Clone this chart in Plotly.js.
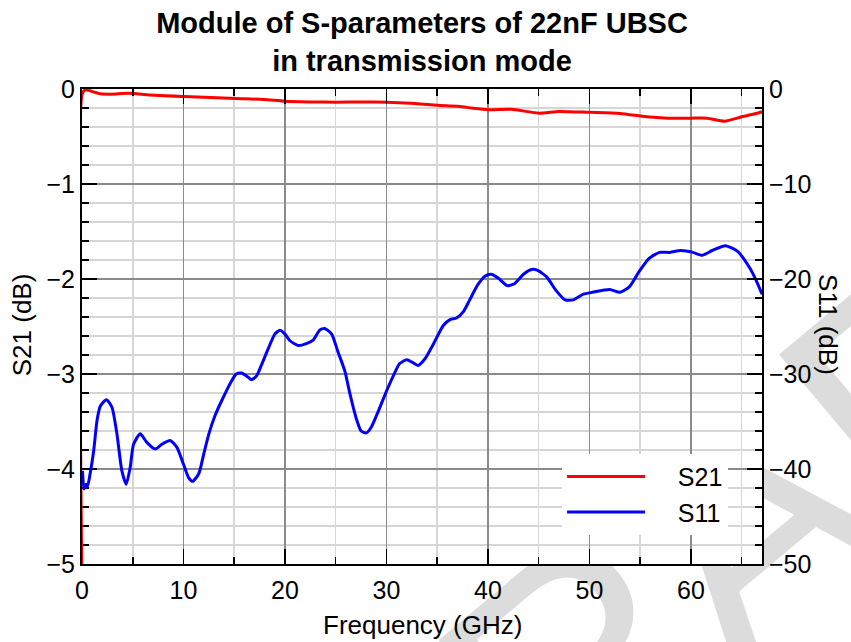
<!DOCTYPE html>
<html>
<head>
<meta charset="utf-8">
<script src="https://cdn.plot.ly/plotly-3.0.1.min.js"></script>
<style>html,body{margin:0;padding:0;background:#fff;}#chart{width:851px;height:642px;}</style>
</head>
<body>
<div id="chart"></div>
<script>
// S21 (transmission) in dB, left axis
const s21Freq = [0, 0, 0.3, 0.64, 1.16, 1.8, 2.9, 4.6, 6.7, 10.0, 12.7, 15.1, 17.9, 20.0, 22.6, 25.0, 27.7, 30.0, 32.4, 35.0, 37.1, 38.4, 40.0, 42.3, 45.0, 47.0, 50.0, 53.0, 55.6, 57.7, 60.0, 61.6, 63.3, 65.0, 66.7, 67.0];
const s21dB = [-5.3, -0.06, -0.01, -0.014, -0.032, -0.05, -0.054, -0.046, -0.064, -0.079, -0.089, -0.1, -0.11, -0.129, -0.136, -0.139, -0.136, -0.139, -0.15, -0.171, -0.182, -0.2, -0.218, -0.214, -0.254, -0.236, -0.246, -0.257, -0.293, -0.307, -0.307, -0.307, -0.339, -0.293, -0.25, -0.24];

// S11 (reflection) in dB, right axis
const s11Freq = [0.05, 0.2, 0.4, 0.55, 0.8, 1.15, 1.48, 1.8, 2.4, 2.95, 3.44, 3.93, 4.36, 4.75, 5.08, 5.74, 6.39, 7.2, 7.87, 8.69, 9.34, 10.0, 10.5, 10.9, 11.5, 12.0, 12.5, 13.1, 13.9, 14.75, 15.2, 15.7, 16.2, 16.7, 17.2, 17.7, 18.4, 19.0, 19.5, 20.0, 20.5, 21.3, 22.1, 22.8, 23.4, 23.9, 24.6, 25.2, 25.9, 26.4, 27.0, 27.5, 28.0, 28.5, 29.2, 30.0, 30.8, 31.3, 32.0, 32.6, 33.1, 33.8, 34.6, 35.6, 36.3, 36.9, 37.6, 38.2, 39.0, 39.7, 40.3, 41.0, 41.9, 42.6, 43.5, 44.3, 44.9, 45.8, 46.7, 47.6, 48.4, 49.4, 50.3, 52.0, 53.0, 53.95, 54.9, 55.9, 56.9, 57.9, 59.0, 60.2, 61.1, 62.1, 63.4, 64.6, 65.8, 66.4, 67.0];
const s11dB = [-40.2, -42.1, -41.6, -41.8, -40.5, -38.1, -34.9, -33.4, -32.7, -33.5, -36.3, -40.2, -41.6, -39.8, -37.4, -36.3, -37.2, -37.9, -37.4, -37.0, -37.7, -39.5, -40.9, -41.3, -40.5, -38.4, -36.3, -34.4, -32.5, -30.7, -30.0, -29.9, -30.2, -30.6, -30.2, -29.0, -27.2, -25.8, -25.4, -25.8, -26.5, -27.0, -26.8, -26.4, -25.4, -25.2, -25.8, -27.6, -29.7, -32.1, -34.6, -36.0, -36.2, -35.6, -33.9, -31.8, -29.9, -28.9, -28.5, -28.8, -29.1, -28.4, -26.9, -24.9, -24.25, -24.1, -23.4, -22.2, -20.6, -19.7, -19.5, -19.9, -20.7, -20.5, -19.5, -19.0, -19.1, -19.8, -21.2, -22.2, -22.2, -21.6, -21.4, -21.1, -21.4, -20.8, -19.2, -17.8, -17.2, -17.2, -17.0, -17.2, -17.5, -17.0, -16.5, -17.1, -18.85, -20.1, -21.6];

const seriesNames = ['S21', 'S11'];
const xTickVals = [0, 10, 20, 30, 40, 50, 60];
const titleText = 'Module of S-parameters of 22nF UBSC<br>in transmission mode';
const xTitle = 'Frequency (GHz)';
const yTitle = 'S21 (dB)';
const y2Title = 'S11 (dB)';
const watermark = 'DRAFT';

const FONT = 'Liberation Sans, Arial, Helvetica, sans-serif';
const PAD = '\u00a0\u00a0\u00a0\u00a0';

const traces = [
  {x: s21Freq, y: s21dB, name: PAD + seriesNames[0], type: 'scatter', mode: 'lines',
   line: {color: '#ff0000', width: 3, shape: 'spline', smoothing: 0.6}, yaxis: 'y'},
  {x: s11Freq, y: s11dB, name: PAD + seriesNames[1], type: 'scatter', mode: 'lines',
   line: {color: '#0000ff', width: 3, shape: 'spline', smoothing: 0.6}, yaxis: 'y2'}
];

const layout = {
  width: 851, height: 642,
  margin: {l: 82, r: 89, t: 89, b: 78, pad: 0},
  paper_bgcolor: '#ffffff', plot_bgcolor: '#ffffff',
  font: {family: FONT, size: 25, color: '#000'},
  showlegend: true,
  title: {text: titleText, x: 0.5, xref: 'paper', xanchor: 'center',
          y: 0.948, yref: 'container', yanchor: 'top',
          font: {family: FONT, size: 29, color: '#000', weight: 'bold'}},
  xaxis: {range: [0, 67], tickvals: xTickVals, ticks: 'inside', ticklen: 15, tickwidth: 1.5, tickcolor: '#000',
          showline: true, linecolor: '#000', linewidth: 2, mirror: 'ticks',
          showgrid: true, gridcolor: '#8a8a8a', gridwidth: 1.5, zeroline: false,
          ticklabelstandoff: 3, tickfont: {size: 25},
          minor: {dtick: 5, tick0: 0, ticks: 'inside', ticklen: 7, tickwidth: 1.5, tickcolor: '#000',
                  showgrid: true, gridcolor: '#d6d6d6', gridwidth: 1.5}},
  yaxis: {range: [-5, 0], dtick: 1, tick0: 0, ticks: 'inside', ticklen: 15, tickwidth: 1.5, tickcolor: '#000',
          showline: true, linecolor: '#000', linewidth: 2, layer: 'below traces',
          showgrid: true, gridcolor: '#8a8a8a', gridwidth: 1.5, zeroline: false,
          ticklabelstandoff: 0, tickfont: {size: 25},
          minor: {dtick: 0.2, tick0: 0, ticks: 'inside', ticklen: 7, tickwidth: 1.5, tickcolor: '#000',
                  showgrid: true, gridcolor: '#d6d6d6', gridwidth: 1.5}},
  yaxis2: {range: [-50, 0], dtick: 10, tick0: 0, overlaying: 'y', side: 'right', anchor: 'x',
           ticks: 'inside', ticklen: 15, tickwidth: 1.5, tickcolor: '#000',
           showline: true, linecolor: '#000', linewidth: 2, showgrid: false, zeroline: false,
           ticklabelstandoff: 0, tickfont: {size: 25},
           minor: {dtick: 2, tick0: 0, ticks: 'inside', ticklen: 7, tickwidth: 1.5, tickcolor: '#000', showgrid: false}},
  legend: {x: 0.706, y: 0.232, xanchor: 'left', yanchor: 'top', bgcolor: '#ffffff', borderwidth: 0,
           font: {family: FONT, size: 25, color: '#000'}, itemwidth: 78, tracegroupgap: 0},
  annotations: [
    {text: xTitle, xref: 'paper', yref: 'paper', x: 0.5, y: -0.128, xanchor: 'center', yanchor: 'middle',
     showarrow: false, font: {family: FONT, size: 26, color: '#000'}},
    {text: yTitle, xref: 'paper', yref: 'paper', x: -0.088, y: 0.503, xanchor: 'center', yanchor: 'middle',
     textangle: -90, showarrow: false, font: {family: FONT, size: 26, color: '#000'}},
    {text: y2Title, xref: 'paper', yref: 'paper', x: 1.097, y: 0.503, xanchor: 'center', yanchor: 'middle',
     textangle: 90, showarrow: false, font: {family: FONT, size: 26, color: '#000'}}
  ],
  shapes: [
    {type: 'rect', xref: 'paper', yref: 'paper', x0: 0.88, x1: 0.94, y0: 0.05, y1: 0.12, layer: 'below',
     line: {width: 0}, fillcolor: 'rgba(0,0,0,0)',
     label: {text: watermark, textangle: -40, textposition: 'middle center',
             font: {family: FONT, size: 320, color: '#dcdcdc'}}},
    {type: 'rect', xref: 'paper', yref: 'paper', x0: 0, x1: 1, y0: 0, y1: 1, layer: 'below',
     line: {width: 0}, fillcolor: '#ffffff'}
  ]
};

Plotly.newPlot('chart', traces, layout, {staticPlot: true, displayModeBar: false});
</script>
</body>
</html>
